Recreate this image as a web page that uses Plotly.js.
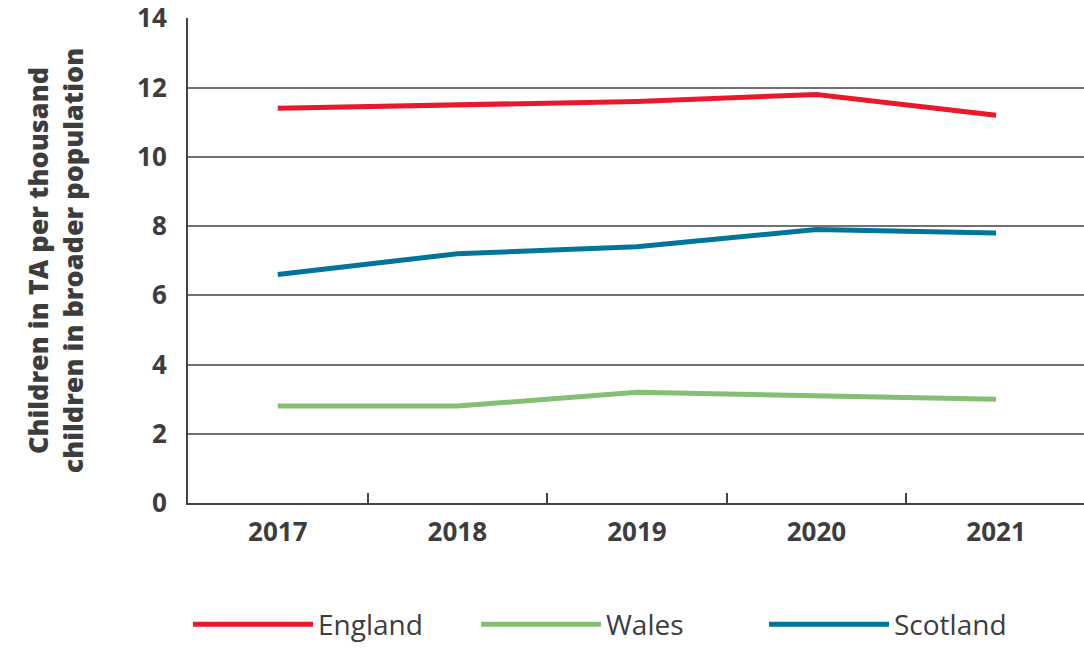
<!DOCTYPE html>
<html>
<head>
<meta charset="utf-8">
<script src="https://cdn.plot.ly/plotly-3.0.1.min.js"></script>
<style>html,body{margin:0;padding:0;background:#fff}#chart{width:1084px;height:648px}</style>
</head>
<body>
<div id="chart"></div>
<script>
var years = ["2017", "2018", "2019", "2020", "2021"];
var seriesNames = ["England", "Wales", "Scotland"];
var england = [11.4, 11.5, 11.6, 11.8, 11.2];
var wales = [2.8, 2.8, 3.2, 3.1, 3.0];
var scotland = [6.6, 7.2, 7.4, 7.9, 7.8];
var yTicks = [0, 2, 4, 6, 8, 10, 12, 14];
var colors = ["#E8192C", "#84BF73", "#00759A"];
var values = [england, wales, scotland];

var traces = values.map(function (v, i) {
  return {
    x: years, y: v, name: seriesNames[i], type: "scatter", mode: "lines",
    line: {color: colors[i], width: 5}
  };
});

var FONT = "'Open Sans', Lato, sans-serif";
var layout = {
  width: 1084, height: 648,
  margin: {l: 188, r: 0, t: 18, b: 145},
  paper_bgcolor: "#fff", plot_bgcolor: "#fff",
  font: {family: FONT, color: "#3d3d3d"},
  showlegend: true,
  legend: {
    orientation: "h", x: 0.0, xanchor: "left",
    yref: "container", y: 0.036, yanchor: "middle",
    font: {family: FONT, size: 28, color: "#3d3d3d", weight: 500},
    itemwidth: 120, entrywidth: 153, entrywidthmode: "pixels",
    traceorder: "normal"
  },
  xaxis: {
    type: "category", range: [-0.5, 4.49],
    tickson: "boundaries", ticks: "inside", ticklen: 10, tickwidth: 2, tickcolor: "#444",
    showgrid: false, showline: true, linecolor: "#444", linewidth: 2,
    tickfont: {family: FONT, size: 26, color: "#3d3d3d", weight: 700},
    ticklabelstandoff: 5, zeroline: false
  },
  yaxis: {
    range: [0, 14.01], tickvals: yTicks, ticktext: yTicks.map(String),
    showgrid: true, gridcolor: "#717171", gridwidth: 2,
    showline: true, linecolor: "#444", linewidth: 2, zeroline: false,
    ticks: "", ticklabelstandoff: 14, ticklabeloverflow: "allow",
    tickfont: {family: FONT, size: 26, color: "#3d3d3d", weight: 700},
    title: {
      text: "Children in TA per thousand<br>children in broader population",
      font: {family: FONT, size: 27, color: "#3d3d3d", weight: 800}, standoff: 46
    }
  }
};

Plotly.newPlot("chart", traces, layout, {staticPlot: true, displayModeBar: false});
</script>
</body>
</html>
